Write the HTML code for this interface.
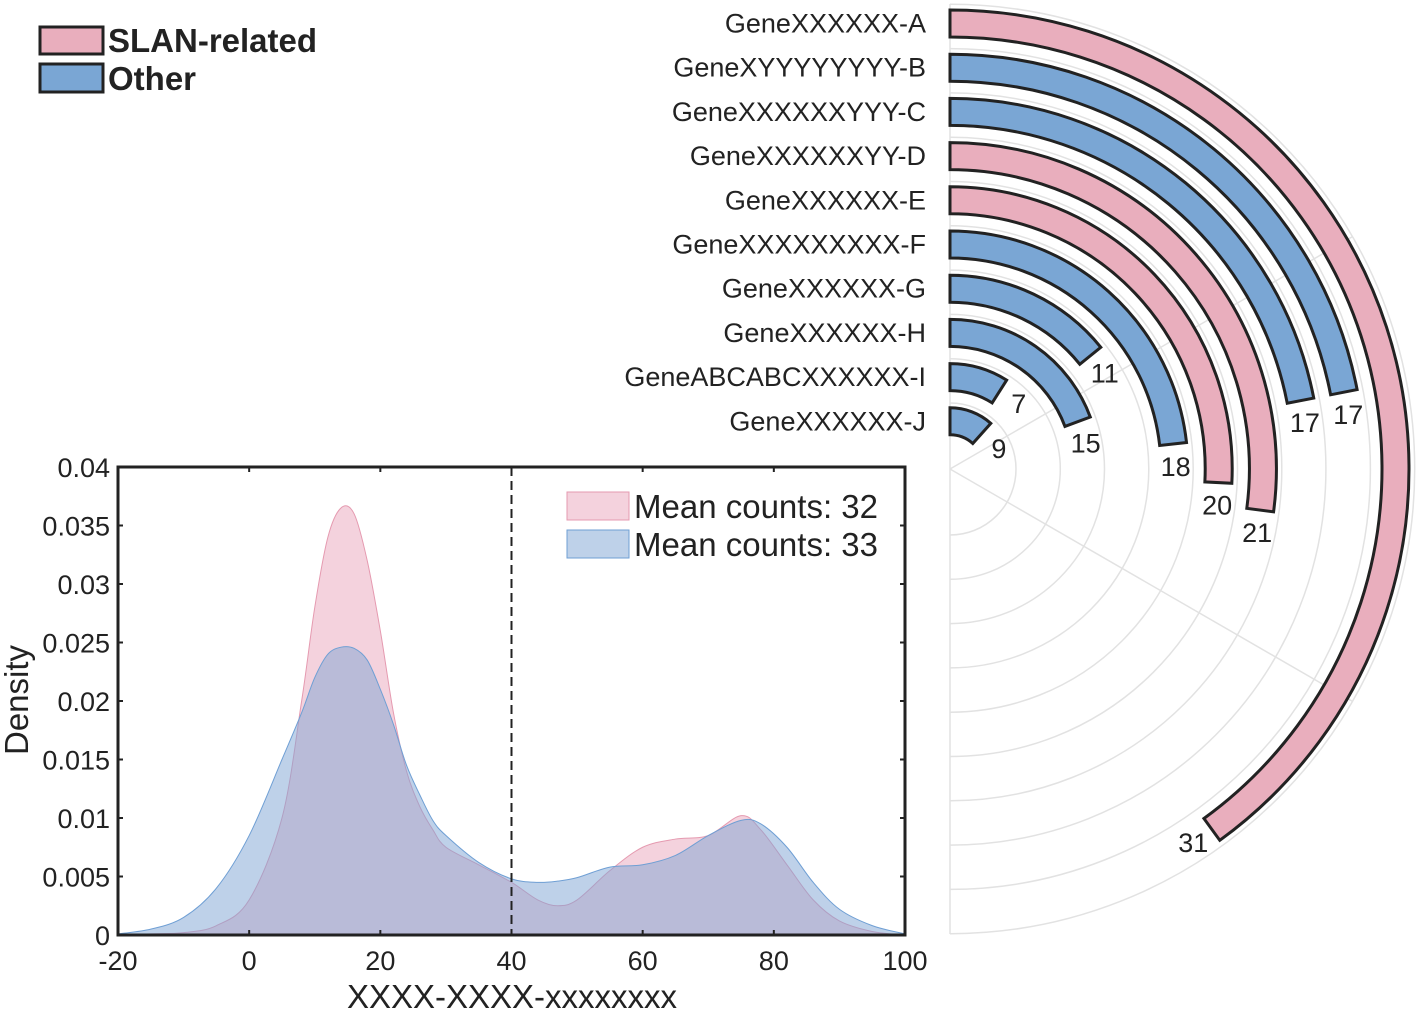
<!DOCTYPE html>
<html><head><meta charset="utf-8"><style>
body{margin:0;background:#fff;}
svg{display:block;font-family:"Liberation Sans",Arial,sans-serif;}
</style></head><body>
<svg id="root" width="1419" height="1010" viewBox="0 0 1419 1010">
<g id="radial"></g>
<g id="density"></g>
<g>
  <rect x="40" y="27" width="63" height="27" fill="#e9aebd" stroke="#222" stroke-width="3"/>
  <text x="108" y="52" font-size="33" font-weight="bold" fill="#222">SLAN-related</text>
  <rect x="40" y="64" width="63" height="28" fill="#7aa6d4" stroke="#222" stroke-width="3"/>
  <text x="108" y="90" font-size="33" font-weight="bold" fill="#222">Other</text>
</g>
</svg>
<script>
const genes=["GeneXXXXXX-A","GeneXYYYYYYYY-B","GeneXXXXXXYYY-C","GeneXXXXXXYY-D","GeneXXXXXX-E","GeneXXXXXXXXX-F","GeneXXXXXX-G","GeneXXXXXX-H","GeneABCABCXXXXXX-I","GeneXXXXXX-J"];
const geneValues=[31,17,17,21,20,18,11,15,7,9];
const geneGroups=["slan","other","other","slan","slan","other","other","other","other","other"];

const densX=[-20,-15,-10,-5,0,5,8,10,12,14,16,18,20,22,24,26,28,30,35,40,44,47,50,55,60,65,70,75,78,82,86,90,95,100];
const slanDens=[0,0.0001,0.0002,0.0008,0.003,0.01,0.02,0.028,0.034,0.0365,0.036,0.032,0.026,0.019,0.014,0.011,0.009,0.0075,0.006,0.0045,0.003,0.0025,0.003,0.0055,0.0075,0.0082,0.0085,0.0102,0.009,0.006,0.003,0.0012,0.0003,0];
const otherDens=[0.0001,0.0005,0.0015,0.004,0.0085,0.015,0.019,0.022,0.024,0.0246,0.0245,0.0235,0.021,0.018,0.0145,0.012,0.0098,0.0085,0.0062,0.0048,0.0045,0.0046,0.0049,0.0058,0.006,0.0068,0.0085,0.0098,0.0095,0.0075,0.0045,0.0022,0.0008,0.0001];
const xTicks=[-20,0,20,40,60,80,100];
const yTicks=[0,0.005,0.01,0.015,0.02,0.025,0.03,0.035,0.04];
const yTickLabels=["0","0.005","0.01","0.015","0.02","0.025","0.03","0.035","0.04"];
const meanLabels=["Mean counts: 32","Mean counts: 33"];

const NS="http://www.w3.org/2000/svg";
function mk(tag,attrs,parent){const e=document.createElementNS(NS,tag);for(const k in attrs)e.setAttribute(k,attrs[k]);parent.appendChild(e);return e;}

/* radial */
const R=document.getElementById('radial');
const cx=950,cy=469,maxV=Math.max(...geneValues)*1.25;
const ang=v=>v/maxV*Math.PI;
const pt=(r,a)=>[cx+r*Math.sin(a),cy-r*Math.cos(a)];
for(let k=0;k<=9;k++){
  const r=66+44.3*k;
  const c=mk('path',{d:`M${cx},${cy-r} A${r},${r} 0 0 1 ${cx},${cy+r}`,fill:'none',stroke:'#e2e2e2','stroke-width':1.5},R);
  
  
}
[60,120].forEach(d=>{
  const p=pt(465,d*Math.PI/180);
  const l=mk('line',{x1:cx,y1:cy,x2:p[0],y2:p[1],stroke:'#e2e2e2','stroke-width':1.5},R);
  
  
});
const vl=mk('line',{x1:cx,y1:4,x2:cx,y2:cy+465,stroke:'#e2e2e2','stroke-width':1.5},R);


genes.forEach((g,i)=>{
  const ro=(cy-10)-i*44.2,ri=ro-27,a=ang(geneValues[i]);
  const [x1,y1]=pt(ro,a),[x2,y2]=pt(ri,a);
  const large=a>Math.PI?1:0;
  const p=mk('path',{d:`M${cx},${cy-ro} A${ro},${ro} 0 ${large} 1 ${x1},${y1} L${x2},${y2} A${ri},${ri} 0 ${large} 0 ${cx},${cy-ri} Z`,fill:geneGroups[i]==='slan'?'#e9aebd':'#7aa6d4',stroke:'#222','stroke-width':3},R);
  
  
  const t=mk('text',{x:926,y:cy-(ro-13.5)+9,'text-anchor':'end','font-size':27,fill:'#222'},R);
  t.textContent=g;
  
  
  const m=pt(ro-13.5,a);const lx=m[0]+23*Math.cos(a),ly=m[1]+23*Math.sin(a);
  const v=mk('text',{x:lx,y:ly+9,'text-anchor':'middle','font-size':27,fill:'#222'},R);
  v.textContent=geneValues[i];
  
  
});

/* density */
const D=document.getElementById('density');
const L=118,Rr=905,T=467,B=935;
const sx=x=>L+(x+20)/120*(Rr-L);
const sy=y=>B-y/0.04*(B-T);
function smooth(xs,ys){
  const P=xs.map((x,i)=>[sx(x),sy(ys[i])]);
  let d=`M${P[0][0]},${P[0][1]}`;
  for(let i=0;i<P.length-1;i++){
    const p0=P[Math.max(0,i-1)],p1=P[i],p2=P[i+1],p3=P[Math.min(P.length-1,i+2)];
    const c1=[p1[0]+(p2[0]-p0[0])/6,p1[1]+(p2[1]-p0[1])/6],c2=[p2[0]-(p3[0]-p1[0])/6,p2[1]-(p3[1]-p1[1])/6];
    d+=` C${c1[0]},${Math.min(B,c1[1])} ${c2[0]},${Math.min(B,c2[1])} ${p2[0]},${p2[1]}`;
  }
  return d;
}
const sp=smooth(densX,slanDens);
const a1=mk('path',{d:sp+` L${sx(100)},${B} L${sx(-20)},${B} Z`,fill:'rgba(232,160,182,0.47)',stroke:'#e59ab0','stroke-width':1},D);


const op=smooth(densX,otherDens);
const a2=mk('path',{d:op+` L${sx(100)},${B} L${sx(-20)},${B} Z`,fill:'rgba(125,163,212,0.5)',stroke:'#6f9fd4','stroke-width':1},D);


const dl=mk('line',{x1:sx(40),y1:T,x2:sx(40),y2:B,stroke:'#222','stroke-width':2,'stroke-dasharray':'9,5'},D);


const box=mk('rect',{x:L,y:T,width:Rr-L,height:B-T,fill:'none',stroke:'#222','stroke-width':3},D);


xTicks.forEach(v=>{
  const x=sx(v);
  mk('line',{x1:x,y1:B,x2:x,y2:B-5,stroke:'#222','stroke-width':2},D);
  mk('line',{x1:x,y1:T,x2:x,y2:T+5,stroke:'#222','stroke-width':2},D);
  const t=mk('text',{x:x,y:B+35,'text-anchor':'middle','font-size':27,fill:'#222'},D);
  t.textContent=v;
  
  
});
yTicks.forEach((v,i)=>{
  const y=sy(v);
  mk('line',{x1:L,y1:y,x2:L+5,y2:y,stroke:'#222','stroke-width':2},D);
  mk('line',{x1:Rr,y1:y,x2:Rr-5,y2:y,stroke:'#222','stroke-width':2},D);
  const t=mk('text',{x:110,y:y+10,'text-anchor':'end','font-size':27,fill:'#222'},D);
  t.textContent=yTickLabels[i];
  
  
});
const yt=mk('text',{x:0,y:0,transform:'translate(28,700) rotate(-90)','text-anchor':'middle','font-size':33,fill:'#222'},D);
yt.textContent='Density';


const xt=mk('text',{x:512,y:1008,'text-anchor':'middle','font-size':33,fill:'#222'},D);
xt.textContent='XXXX-XXXX-xxxxxxxx';


[['rgba(232,160,182,0.47)','#e59ab0'],['rgba(125,163,212,0.5)','#6f9fd4']].forEach((c,i)=>{
  const y0=492+38*i;
  const r=mk('rect',{x:567,y:y0,width:62,height:28,fill:c[0],stroke:c[1],'stroke-width':1},D);
  
  
  const t=mk('text',{x:634,y:y0+26,'font-size':33,fill:'#222'},D);
  t.textContent=meanLabels[i];
  
  
});
</script>
</body></html>
